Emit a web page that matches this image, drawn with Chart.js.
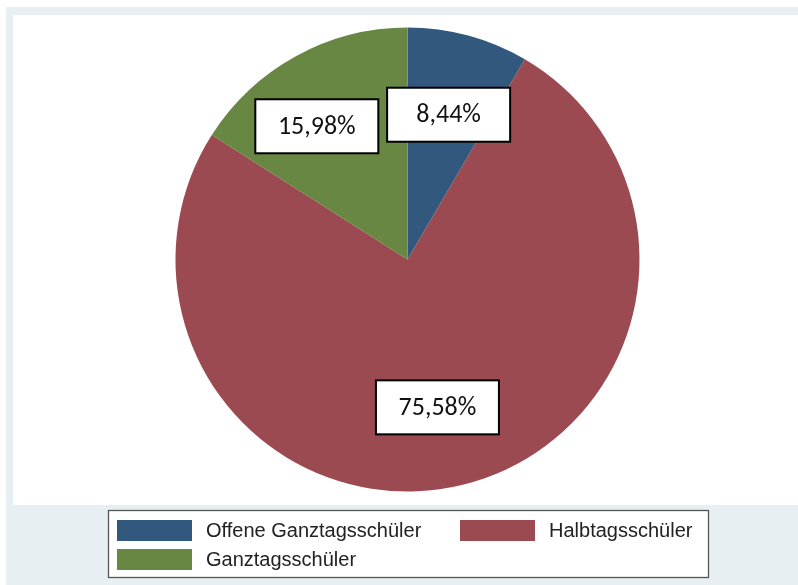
<!DOCTYPE html>
<html>
<head>
<meta charset="utf-8">
<script src="https://cdn.jsdelivr.net/npm/chart.js@4/dist/chart.umd.min.js"></script>
<style>
  html, body { margin: 0; padding: 0; background: #ffffff; }
  #wrap { width: 798px; height: 585px; position: relative; }
</style>
</head>
<body>
<div id="wrap"><canvas id="c" width="798" height="585"></canvas></div>
<script>
// Schülerverteilung nach Betreuungsform (Anteile in %)
const categories = ['Offene Ganztagsschüler', 'Halbtagsschüler', 'Ganztagsschüler'];
const shares = [8.44, 75.58, 15.98];
const colors = ['#32587e', '#9b4a51', '#688742'];

const fmt = v => v.toFixed(2).replace('.', ',') + '%';

// Hintergrund: hellblauer Rahmen, weiße Plotfläche
const frame = {
  id: 'frame',
  beforeDraw(chart) {
    const ctx = chart.ctx;
    ctx.save();
    ctx.fillStyle = '#ffffff';
    ctx.fillRect(0, 0, chart.width, chart.height);
    ctx.fillStyle = '#e8eff2';
    ctx.fillRect(6, 7, chart.width - 6, chart.height - 7);
    ctx.fillStyle = '#ffffff';
    ctx.fillRect(13, 15, chart.width - 13, 490);
    ctx.restore();
  }
};

// Wertbeschriftungen in weißen Kästchen auf den Segmenten
const boxLabels = {
  id: 'boxLabels',
  afterDatasetsDraw(chart, args, opts) {
    const ctx = chart.ctx;
    const meta = chart.getDatasetMeta(0);
    ctx.save();
    meta.data.forEach((arc, i) => {
      const p = arc.getProps(['x', 'y', 'startAngle', 'endAngle', 'outerRadius'], true);
      const mid = (p.startAngle + p.endAngle) / 2;
      const r = p.outerRadius * opts.radius;
      const nud = opts.nudge[i] || [0, 0];
      const cx = p.x + Math.cos(mid) * r + nud[0];
      const cy = p.y + Math.sin(mid) * r + nud[1];
      const w = opts.boxW, h = opts.boxH;
      ctx.fillStyle = '#ffffff';
      ctx.fillRect(cx - w / 2, cy - h / 2, w, h);
      ctx.strokeStyle = '#000000';
      ctx.lineWidth = 2;
      ctx.strokeRect(cx - w / 2, cy - h / 2, w, h);
      ctx.fillStyle = '#111111';
      ctx.font = opts.font;
      ctx.textAlign = 'center';
      ctx.textBaseline = 'middle';
      ctx.fillText(fmt(chart.data.datasets[0].data[i]), cx, cy + 1);
    });
    ctx.restore();
  }
};

// Legende unten, zweispaltig mit breiten Farbfeldern
const stataLegend = {
  id: 'stataLegend',
  afterDraw(chart) {
    const ctx = chart.ctx;
    ctx.save();
    const bx = 108.5, by = 510.5, bw = 600, bh = 67;
    ctx.fillStyle = '#ffffff';
    ctx.fillRect(bx, by, bw, bh);
    ctx.strokeStyle = '#555555';
    ctx.lineWidth = 1.3;
    ctx.strokeRect(bx, by, bw, bh);
    const cols = [117, 460];
    const rows = [520, 549];
    ctx.font = '20px "Liberation Sans", Arial, sans-serif';
    ctx.textBaseline = 'middle';
    ctx.textAlign = 'left';
    chart.data.labels.forEach((lab, i) => {
      const x = cols[i % 2], y = rows[Math.floor(i / 2)];
      ctx.fillStyle = chart.data.datasets[0].backgroundColor[i];
      ctx.fillRect(x, y, 75, 21);
      ctx.fillStyle = '#222222';
      ctx.fillText(lab, x + 89, y + 11);
    });
    ctx.restore();
  }
};

new Chart(document.getElementById('c'), {
  type: 'pie',
  data: {
    labels: categories,
    datasets: [{
      data: shares,
      backgroundColor: colors,
      borderWidth: 0
    }]
  },
  options: {
    responsive: false,
    animation: false,
    layout: { padding: { left: 175.5, right: 158.5, top: 27.5, bottom: 93.5 } },
    plugins: {
      legend: { display: false },
      tooltip: { enabled: false },
      boxLabels: {
        radius: 0.66,
        boxW: 123, boxH: 54,
        font: '26px Carlito, Lato, "Open Sans", sans-serif',
        nudge: [[1, 3], [-6, -1], [-17, 1]]
      }
    }
  },
  plugins: [frame, boxLabels, stataLegend]
});
</script>
</body>
</html>
